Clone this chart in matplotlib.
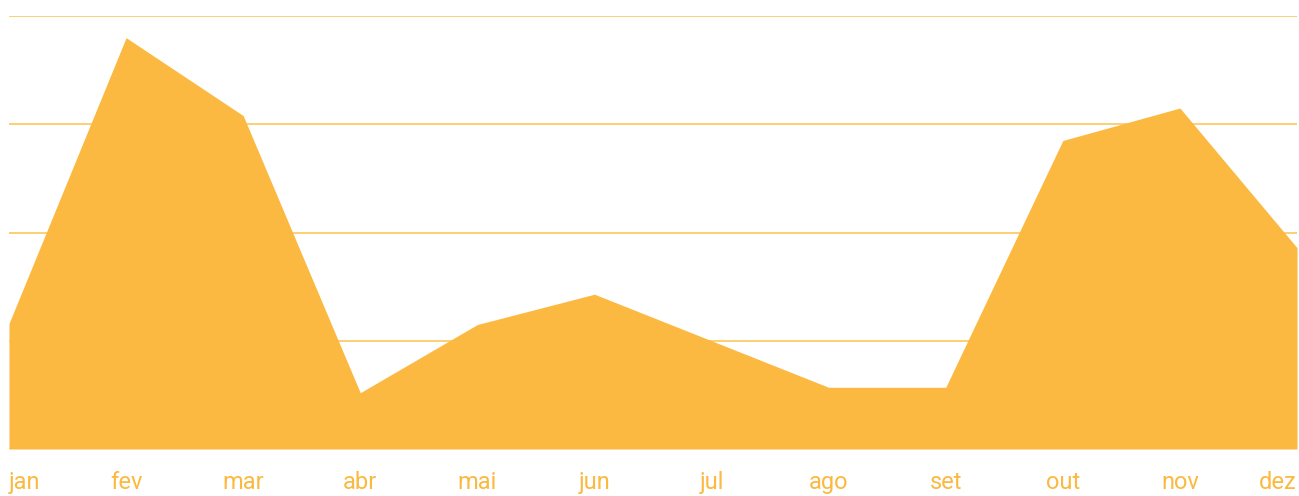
import numpy as np
import matplotlib.pyplot as plt

# monthly values
months = ['jan', 'fev', 'mar', 'abr', 'mai', 'jun', 'jul', 'ago', 'set', 'out', 'nov', 'dez']
values = [116, 380, 308, 52, 115, 143, 100, 57, 57, 285, 315, 186]
y_ticks = [0, 100, 200, 300, 400]

fill_color = '#fcb941'
grid_color = '#fcc75c'

plt.rcParams['font.family'] = ['Roboto', 'DejaVu Sans']

fig = plt.figure(figsize=(12.99, 4.96), dpi=100)
ax = fig.add_axes([9 / 1299, 47 / 496, 1288 / 1299, 433 / 496])

x = np.arange(len(months))
ax.fill_between(x, 0, values, color=fill_color, linewidth=0, zorder=2)

ax.set_xlim(0, len(months) - 1)
ax.set_ylim(y_ticks[0], y_ticks[-1])
for yv in y_ticks:
    ax.axhline(yv, color=grid_color, linewidth=1.2, zorder=1)

for s in ax.spines.values():
    s.set_visible(False)
ax.set_yticks([])
ax.set_xticks(x)
ax.set_xticklabels(months, fontsize=17, color=fill_color)
ax.tick_params(axis='x', length=0, pad=16)
labels = ax.get_xticklabels()
labels[0].set_horizontalalignment('left')
labels[-1].set_horizontalalignment('right')

fig.savefig('out.png', dpi=100)
